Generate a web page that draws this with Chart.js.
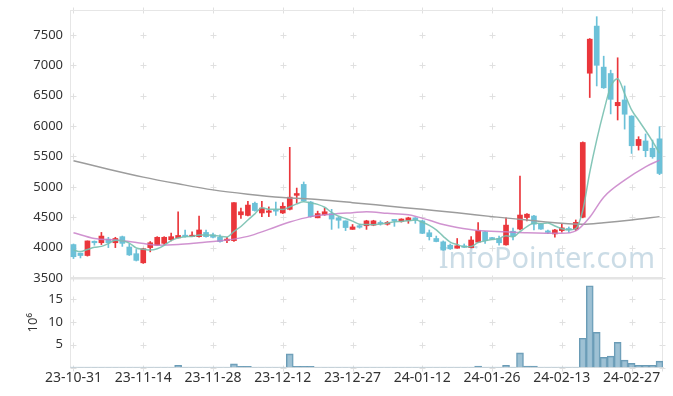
<!DOCTYPE html>
<html>
<head>
<meta charset="utf-8">
<script src="https://cdn.jsdelivr.net/npm/chart.js@4.4.0/dist/chart.umd.min.js"></script>
<style>
  html, body { margin: 0; padding: 0; background: #fff; }
  #wrap { width: 673px; height: 396px; }
</style>
</head>
<body>
<div id="wrap"><canvas id="chart" width="673" height="396"></canvas></div>
<script>
// trading days
const dates = [
  '23-10-31','23-11-01','23-11-02','23-11-03','23-11-06','23-11-07','23-11-08','23-11-09','23-11-10','23-11-13',
  '23-11-14','23-11-15','23-11-16','23-11-17','23-11-20','23-11-21','23-11-22','23-11-23','23-11-24','23-11-27',
  '23-11-28','23-11-29','23-11-30','23-12-01','23-12-04','23-12-05','23-12-06','23-12-07','23-12-08','23-12-11',
  '23-12-12','23-12-13','23-12-14','23-12-15','23-12-18','23-12-19','23-12-20','23-12-21','23-12-22','23-12-26',
  '23-12-27','23-12-28','24-01-02','24-01-03','24-01-04','24-01-05','24-01-08','24-01-09','24-01-10','24-01-11',
  '24-01-12','24-01-15','24-01-16','24-01-17','24-01-18','24-01-19','24-01-22','24-01-23','24-01-24','24-01-25',
  '24-01-26','24-01-29','24-01-30','24-01-31','24-02-01','24-02-02','24-02-05','24-02-06','24-02-07','24-02-08',
  '24-02-13','24-02-14','24-02-15','24-02-16','24-02-19','24-02-20','24-02-21','24-02-22','24-02-23','24-02-26',
  '24-02-27','24-02-28','24-02-29','24-03-04','24-03-05'
];

const opens = [
  4050,3910,3870,4100,4080,4140,4080,4180,4010,3900,
  3750,4000,4040,4070,4130,4160,4200,4180,4180,4250,
  4210,4170,4115,4115,4540,4530,4730,4570,4580,4610,
  4570,4630,4860,5040,4750,4490,4540,4560,4490,4440,
  4300,4360,4360,4370,4410,4385,4445,4430,4445,4490,
  4440,4245,4150,4095,4040,3990,4030,4000,4090,4260,
  4160,4150,4045,4270,4306,4495,4520,4390,4255,4225,
  4280,4305,4305,4500,6870,7645,6970,6865,6335,6430,
  6165,5680,5755,5635,5790
];
const highs = [
  4060,3910,4110,4110,4250,4170,4170,4190,4060,3970,
  3990,4100,4180,4180,4240,4590,4290,4260,4520,4290,
  4240,4210,4170,4740,4650,4760,4750,4760,4670,4750,
  4740,5650,4980,5080,4760,4600,4650,4630,4500,4440,
  4380,4380,4450,4450,4440,4430,4455,4475,4500,4495,
  4450,4290,4190,4110,4060,4150,4060,4180,4410,4270,
  4170,4190,4490,4320,5178,4560,4530,4400,4290,4300,
  4390,4340,4455,5740,7440,7800,7150,6920,7124,6660,
  6170,5825,5870,5770,5990
];
const lows = [
  3820,3830,3860,4040,4050,4000,4000,4020,3870,3780,
  3740,3930,4040,4050,4110,4160,4170,4180,4170,4170,
  4160,4090,4080,4100,4480,4520,4600,4510,4510,4530,
  4560,4620,4730,4760,4500,4490,4530,4300,4320,4280,
  4300,4320,4300,4360,4370,4370,4350,4420,4400,4400,
  4230,4125,4095,3955,3970,3990,4000,3995,4085,4070,
  4130,4040,4040,4125,4290,4440,4290,4300,4230,4170,
  4255,4250,4280,4490,6470,6660,6620,6200,6100,5950,
  5550,5605,5495,5470,5200
];
const closes = [
  3850,3870,4110,4080,4190,4080,4150,4070,3880,3790,
  3980,4080,4170,4170,4180,4200,4180,4190,4290,4180,
  4170,4100,4140,4740,4590,4700,4610,4650,4600,4600,
  4680,4830,4890,4770,4510,4560,4590,4470,4450,4330,
  4340,4335,4440,4440,4390,4415,4440,4470,4490,4455,
  4235,4180,4100,3960,3980,4030,4005,4125,4280,4115,
  4140,4080,4370,4190,4536,4550,4385,4305,4250,4290,
  4325,4290,4415,5730,7430,7000,6630,6440,6390,6195,
  5676,5780,5595,5495,5220
];
// volume, millions
const volumes = [
  0.1,0.1,0.1,0.1,0.1,0.1,0.1,0.1,0.1,0.1,
  0.1,0.1,0.1,0.1,0.1,0.5,0.1,0.1,0.1,0.1,
  0.1,0.1,0.1,0.8,0.25,0.25,0.1,0.1,0.1,0.1,
  0.1,3.0,0.25,0.25,0.25,0.1,0.1,0.1,0.1,0.1,
  0.1,0.1,0.1,0.1,0.1,0.1,0.1,0.1,0.1,0.1,
  0.1,0.1,0.1,0.1,0.1,0.1,0.1,0.1,0.3,0.1,
  0.1,0.1,0.5,0.1,3.2,0.3,0.3,0.1,0.1,0.1,
  0.1,0.1,0.1,6.4,17.9,7.7,2.2,2.5,5.5,1.6,
  0.9,0.5,0.5,0.5,1.4
];
// moving averages
const ma5 = [
  3960,3935,3970,4005,4020,4066,4122,4114,4074,3994,
  3974,3960,3980,4038,4116,4160,4180,4184,4208,4208,
  4202,4186,4176,4266,4348,4454,4556,4658,4630,4632,
  4628,4672,4720,4754,4736,4712,4664,4580,4516,4480,
  4436,4385,4379,4377,4389,4404,4425,4431,4441,4454,
  4418,4366,4292,4186,4091,4050,4015,4020,4084,4111,
  4133,4148,4197,4179,4263,4345,4406,4393,4405,4356,
  4311,4292,4314,4610,5238,5773,6241,6646,6778,6531,
  6266,6096,5927,5748,5553
];
const ma20 = [
  [0,4245],[3,4150],[6,4125],[9,4085],[12,4040],[15,4050],[18,4080],[22,4125],[25,4185],
  [28,4300],[31,4420],[34,4510],[37,4550],[40,4575],[42,4590],[45,4565],[48,4540],[51,4450],
  [53,4380],[55,4330],[58,4280],[62,4260],[65,4245],[70,4235],[72,4275],[74,4500],[76,4830],
  [79,5110],[82,5330],[84,5440]
];
const ma120 = [
  [0,5430],[5,5290],[10,5160],[15,5050],[20,4950],[25,4880],[30,4825],[35,4790],[40,4740],
  [45,4685],[50,4630],[55,4575],[60,4510],[65,4455],[70,4400],[73,4385],[76,4410],[80,4455],[84,4510]
];
const priceTicks = [3500, 4000, 4500, 5000, 5500, 6000, 6500, 7000, 7500];
const volumeTicks = [0, 5, 10, 15];

const UP = '#ea363b';
const DOWN = '#6cc1d8';
const candleColors = opens.map((o, i) => closes[i] >= o ? UP : DOWN);
const toPoints = arr => arr.map(([i, v]) => ({ x: dates[i], y: v }));

const FONT = '"Noto Sans", "Open Sans", sans-serif';

// fixed axis width, no label overflow padding
function fitY(s) {
  s.width = 70;
  s.paddingTop = 0;
  s.paddingBottom = 0;
}

// faint crosses, frame, divider and watermark
const decor = {
  id: 'decor',
  beforeDatasetsDraw(chart) {
    const { ctx, chartArea: a, scales: { x, y, yv } } = chart;
    ctx.save();
    ctx.font = '29px ' + FONT;
    ctx.fillStyle = 'rgba(185,208,222,0.75)';
    ctx.textAlign = 'right';
    ctx.textBaseline = 'alphabetic';
    ctx.fillText('InfoPointer.com', 655, 268);

    ctx.strokeStyle = '#e0e0e0';
    ctx.lineWidth = 1;
    const xs = x.ticks.map(t => Math.round(x.getPixelForValue(t.value)) + 0.5);
    const ys = [a.top]
      .concat(priceTicks.map(v => y.getPixelForValue(v)))
      .concat(volumeTicks.map(v => yv.getPixelForValue(v)))
      .map(p => Math.round(p) + 0.5);
    ctx.beginPath();
    xs.concat([a.right - 0.5]).forEach(px => {
      ys.forEach(py => {
        ctx.moveTo(px - 3, py); ctx.lineTo(px + 3, py);
        ctx.moveTo(px, py - 3); ctx.lineTo(px, py + 3);
      });
    });
    ctx.stroke();

    ctx.strokeStyle = '#e6e6e6';
    ctx.beginPath();
    ctx.moveTo(a.left, a.top + 0.5); ctx.lineTo(a.right, a.top + 0.5);
    ctx.moveTo(a.right - 0.5, a.top); ctx.lineTo(a.right - 0.5, a.bottom);
    ctx.stroke();
    ctx.fillStyle = '#e4e4e4';
    ctx.fillRect(a.left, y.bottom - 1, a.width, 2.5);
    ctx.restore();
  }
};

new Chart(document.getElementById('chart'), {
  data: {
    labels: dates,
    datasets: [
      {
        type: 'line', label: 'MA5', data: ma5, yAxisID: 'y',
        borderColor: 'rgba(120,192,176,0.9)', borderWidth: 1.5,
        pointRadius: 0, cubicInterpolationMode: 'monotone', order: 0
      },
      {
        type: 'line', label: 'MA20', data: toPoints(ma20), yAxisID: 'y',
        borderColor: 'rgba(200,128,200,0.85)', borderWidth: 1.5, spanGaps: true,
        pointRadius: 0, cubicInterpolationMode: 'monotone', order: 0
      },
      {
        type: 'line', label: 'MA120', data: toPoints(ma120), yAxisID: 'y',
        borderColor: '#9c9c9c', borderWidth: 1.5, spanGaps: true,
        pointRadius: 0, cubicInterpolationMode: 'monotone', order: 0
      },
      {
        type: 'bar', label: 'body', data: opens.map((o, i) => [o, closes[i]]), yAxisID: 'y',
        backgroundColor: candleColors, barThickness: 5, minBarLength: 1.5,
        grouped: false, order: 1
      },
      {
        type: 'bar', label: 'wick', data: lows.map((l, i) => [l, highs[i]]), yAxisID: 'y',
        backgroundColor: candleColors, barThickness: 1, grouped: false, order: 2
      },
      {
        type: 'bar', label: 'volume', data: volumes, yAxisID: 'yv',
        backgroundColor: 'rgba(125,172,198,0.75)', borderColor: '#6a9bb5',
        borderWidth: { top: 1, left: 1, right: 1, bottom: 0 },
        barPercentage: 1, categoryPercentage: 1, grouped: false, order: 1
      }
    ]
  },
  options: {
    responsive: false,
    animation: false,
    devicePixelRatio: 1,
    layout: { padding: { top: 10, right: 10, left: 0, bottom: 0 } },
    plugins: { legend: { display: false }, tooltip: { enabled: false } },
    scales: {
      x: {
        type: 'category',
        offset: true,
        grid: { display: false, drawTicks: false },
        border: { display: true, color: '#e3e3e3' },
        afterBuildTicks: s => { s.ticks = s.ticks.filter(t => t.value % 10 === 0); },
        afterFit: s => { s.height = 28.5; },
        ticks: {
          autoSkip: false, maxRotation: 0, padding: 2,
          color: '#333', font: { family: FONT, size: 14 }
        }
      },
      yv: {
        type: 'linear', position: 'left', stack: 'panes', stackWeight: 89.5,
        min: 0, max: 19.6,
        grid: { display: false, drawTicks: false },
        border: { display: true, color: '#e6e6e6' },
        afterBuildTicks: s => { s.ticks = volumeTicks.map(v => ({ value: v })); },
        afterFit: fitY,
        title: {
          display: true, text: '10\u2076', color: '#333',
          font: { family: FONT, size: 13 }, padding: { top: 25, bottom: 0 }
        },
        ticks: {
          autoSkip: false, padding: 7,
          color: '#333', font: { family: FONT, size: 13 },
          callback: v => (v === 0 ? '' : String(v))
        }
      },
      y: {
        type: 'linear', position: 'left', stack: 'panes', stackWeight: 268,
        min: 3500, max: 7910,
        grid: { display: false, drawTicks: false },
        border: { display: true, color: '#e6e6e6' },
        afterBuildTicks: s => { s.ticks = priceTicks.map(v => ({ value: v })); },
        afterFit: fitY,
        ticks: {
          autoSkip: false, padding: 7,
          color: '#333', font: { family: FONT, size: 13 },
          callback: v => String(v)
        }
      }
    }
  },
  plugins: [decor]
});
</script>
</body>
</html>
